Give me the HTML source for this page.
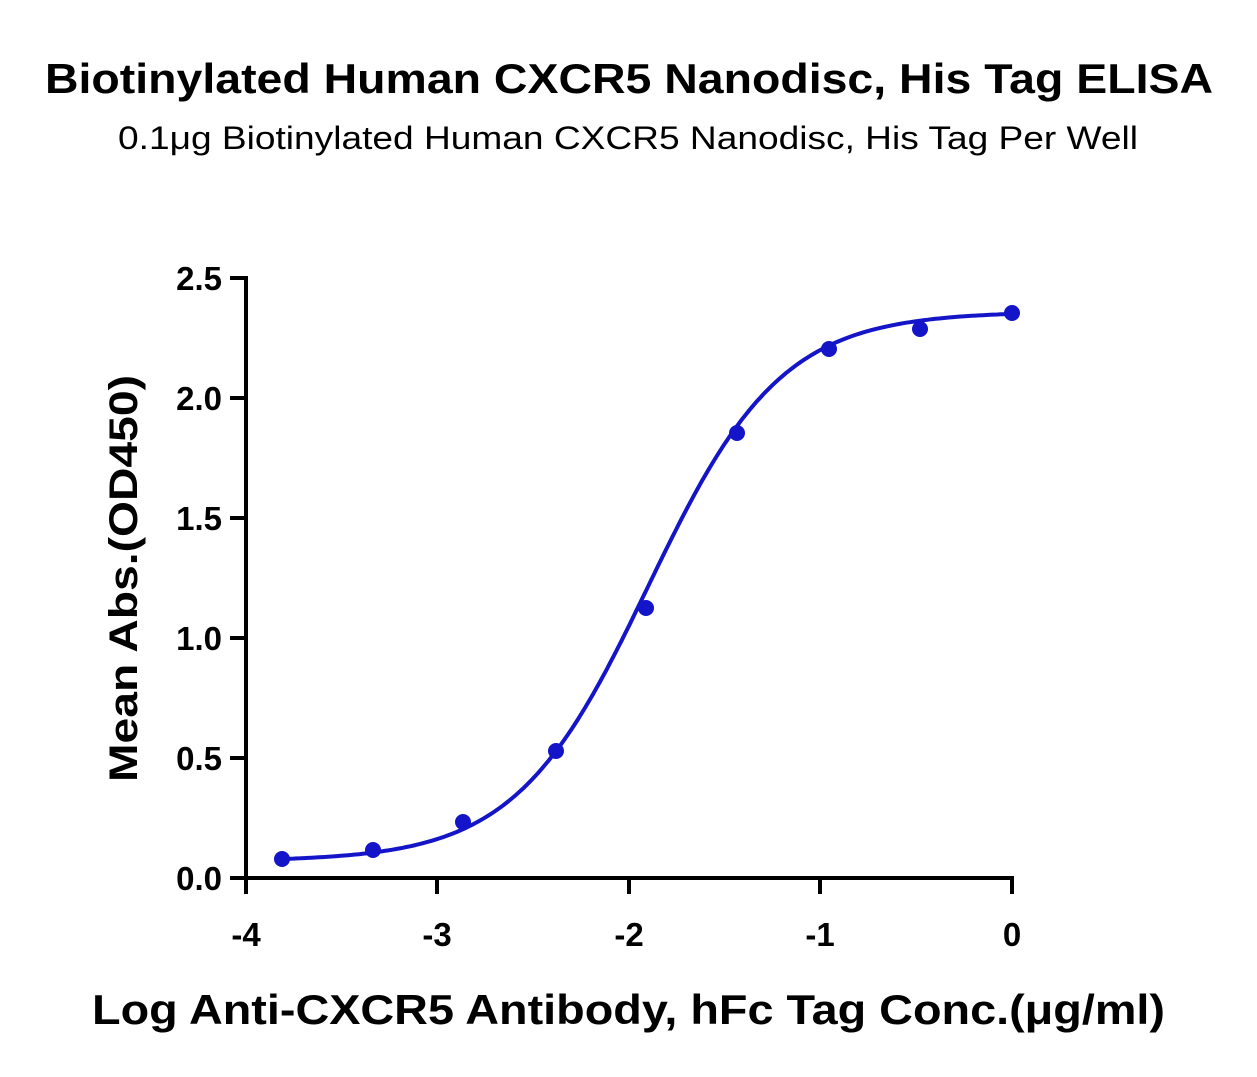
<!DOCTYPE html>
<html><head><meta charset="utf-8"><style>
html,body{margin:0;padding:0;background:#fff;}
svg{display:block;font-family:"Liberation Sans",sans-serif;}
</style></head><body>
<svg width="1257" height="1077" viewBox="0 0 1257 1077" xmlns="http://www.w3.org/2000/svg">
<text x="45" y="93" textLength="1168" lengthAdjust="spacingAndGlyphs" font-size="42" font-weight="bold" fill="#000">Biotinylated Human CXCR5 Nanodisc, His Tag ELISA</text>
<text x="118" y="149" textLength="1020" lengthAdjust="spacingAndGlyphs" font-size="32" fill="#000">0.1μg Biotinylated Human CXCR5 Nanodisc, His Tag Per Well</text>
<g stroke="#000" stroke-width="4" fill="none">
<line x1="246" y1="276" x2="246" y2="880"/>
<line x1="244" y1="878" x2="1014" y2="878"/>
<line x1="230" y1="278" x2="246" y2="278"/>
<line x1="230" y1="398" x2="246" y2="398"/>
<line x1="230" y1="518" x2="246" y2="518"/>
<line x1="230" y1="638" x2="246" y2="638"/>
<line x1="230" y1="758" x2="246" y2="758"/>
<line x1="230" y1="878" x2="246" y2="878"/>
<line x1="246" y1="878" x2="246" y2="894"/>
<line x1="437" y1="878" x2="437" y2="894"/>
<line x1="629" y1="878" x2="629" y2="894"/>
<line x1="820" y1="878" x2="820" y2="894"/>
<line x1="1012" y1="878" x2="1012" y2="894"/>
</g>
<g font-size="33" font-weight="bold" text-anchor="end" fill="#000">
<text x="222" y="290">2.5</text><text x="222" y="410">2.0</text><text x="222" y="530">1.5</text>
<text x="222" y="650">1.0</text><text x="222" y="770">0.5</text><text x="222" y="890">0.0</text>
</g>
<g font-size="33" font-weight="bold" text-anchor="middle" fill="#000">
<text x="246" y="946">-4</text><text x="437" y="946">-3</text><text x="629" y="946">-2</text>
<text x="820" y="946">-1</text><text x="1012" y="946">0</text>
</g>
<text x="92" y="1024" textLength="1073" lengthAdjust="spacingAndGlyphs" font-size="42" font-weight="bold" fill="#000">Log Anti-CXCR5 Antibody, hFc Tag Conc.(μg/ml)</text>
<text transform="translate(137,782) rotate(-90)" textLength="407" lengthAdjust="spacingAndGlyphs" font-size="40" font-weight="bold" fill="#000">Mean Abs.(OD450)</text>
<path id="curve" fill="none" stroke="#1414c8" stroke-width="4"/>
<g fill="#1414c8">
<circle cx="282" cy="859" r="8"/><circle cx="373" cy="850" r="8"/><circle cx="463" cy="822" r="8"/>
<circle cx="556" cy="751" r="8"/><circle cx="646" cy="608" r="8"/><circle cx="737" cy="433" r="8"/>
<circle cx="829" cy="349" r="8"/><circle cx="920" cy="329" r="8"/><circle cx="1012" cy="313" r="8"/>
</g>
<script>
var d="";for(var i=0;i<=200;i++){var x=-3.81+3.81*i/200;var y=0.07+2.29/(1+Math.pow(10,(-1.9-x)*1.25));
var px=246+(x+4)*191.5,py=878-y*240;d+=(i?"L":"M")+px.toFixed(1)+","+py.toFixed(1);}
document.getElementById("curve").setAttribute("d",d);
</script>
</svg>
</body></html>
